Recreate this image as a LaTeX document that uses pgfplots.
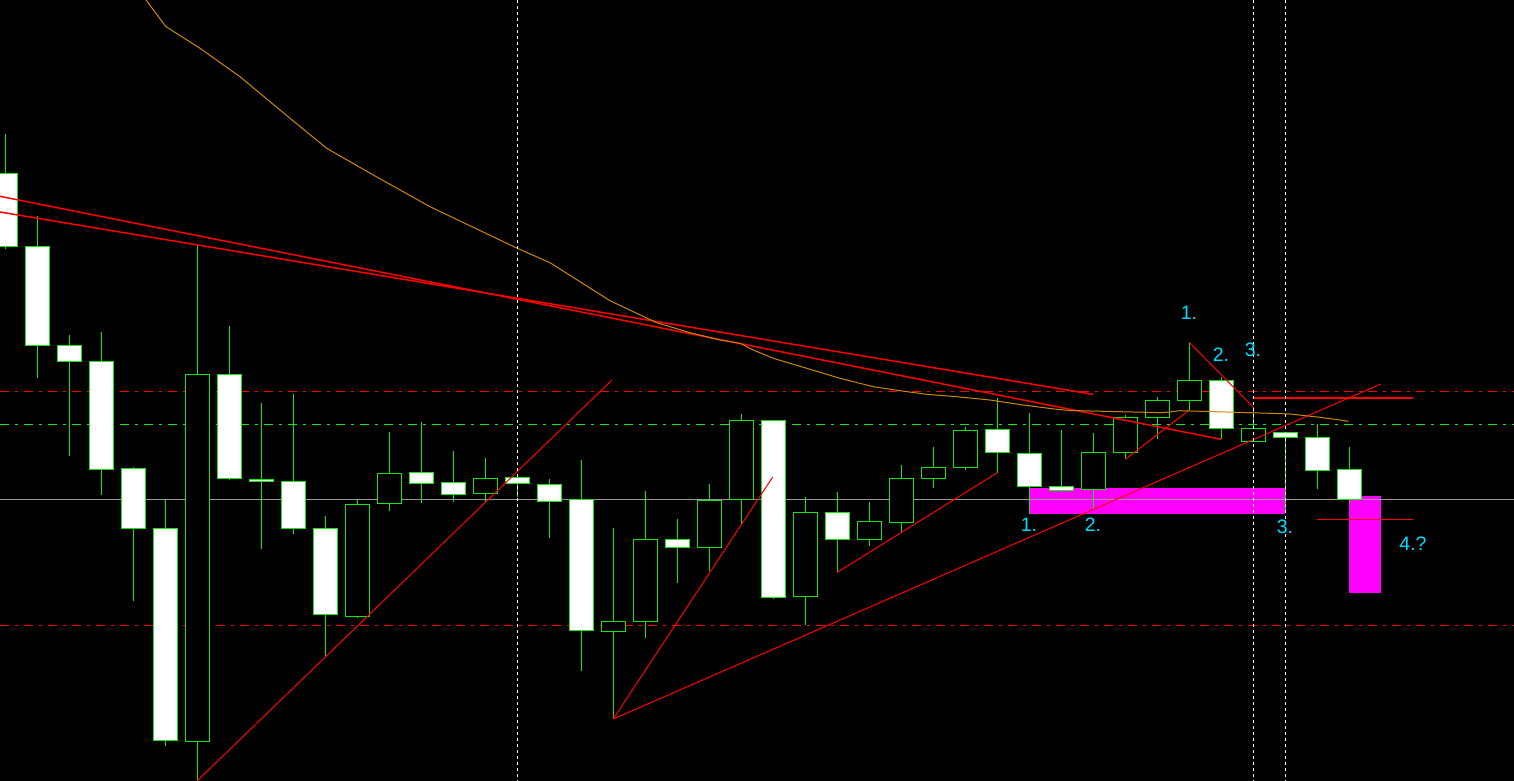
\documentclass[border=0pt]{standalone}
\usepackage{pgfplots}
\pgfplotsset{compat=1.18}
\usepackage{fontspec}
\setmainfont{Liberation Sans}
\definecolor{cgreen}{RGB}{20,230,20}
\definecolor{cgray}{RGB}{150,150,150}
\definecolor{maorange}{RGB}{205,135,10}
\definecolor{lblcyan}{RGB}{0,220,255}
\definecolor{mag}{RGB}{255,0,255}
\definecolor{tred}{RGB}{255,0,0}
\pgfplotsset{
  wick/.style={draw=cgreen, line width=1pt, mark=none},
  body/.style={draw=cgreen, line width=1pt, mark=none},
}
% \candle{x}{high}{top}{bottom}{low}{fill}
\newcommand{\candle}[6]{%
  \pgfmathsetmacro\xl{#1-12}\pgfmathsetmacro\xr{#1+12}%
  \edef\doplot{\noexpand\addplot[wick] coordinates {(#1,#2) (#1,#5)};%
    \noexpand\addplot[body,fill=#6] coordinates {(\xl,#3) (\xr,#3) (\xr,#4) (\xl,#4)} -- cycle;}%
  \doplot}
\begin{document}
\begin{tikzpicture}
\begin{axis}[
  scale only axis, width=1514pt, height=781pt,
  xmin=0, xmax=1514, ymin=0, ymax=781, y dir=reverse,
  hide axis, enlargelimits=false, clip=true,
  every axis plot/.append style={mark=none},
]
% background
\addplot[fill=black, draw=none] coordinates {(0,0) (1514,0) (1514,781) (0,781)} -- cycle;
% magenta zones
\addplot[fill=mag, draw=none] coordinates {(1029.3,488) (1285,488) (1285,513.7) (1029.3,513.7)} -- cycle;
\addplot[fill=mag, draw=none] coordinates {(1349,496) (1381,496) (1381,592.7) (1349,592.7)} -- cycle;
% horizontal levels
\addplot[cgray, line width=1pt] coordinates {(0,499) (1514,499)};
\addplot[tred, line width=1pt, dash pattern=on 9pt off 6pt on 3pt off 6pt] coordinates {(0,391.5) (1514,391.5)};
\addplot[tred, line width=1pt, dash pattern=on 9pt off 6pt on 3pt off 6pt] coordinates {(0,625.3) (1514,625.3)};
\addplot[cgreen, line width=1pt, dash pattern=on 9pt off 6pt on 3pt off 6pt] coordinates {(0,424.3) (1514,424.3)};
% candles
\candle{5.5}{134}{173.5}{246.5}{249}{white}
\candle{37.5}{216}{246.5}{345.5}{377.6}{white}
\candle{69.5}{335}{345.5}{361.5}{456.4}{white}
\candle{101.5}{332}{361.5}{469}{494.8}{white}
\candle{133.5}{467}{468.6}{528.5}{600.6}{white}
\candle{165.5}{499.4}{528.5}{740.5}{746}{white}
\candle{197.5}{244.8}{374.6}{741.4}{781}{black}
\candle{229.5}{326}{374.6}{478.3}{479.6}{white}
\candle{261.5}{403}{479}{481.7}{548.7}{white}
\candle{293.5}{394}{481.3}{528.7}{533.7}{white}
\candle{325.5}{516}{528.3}{614.3}{656.7}{white}
\candle{357.5}{500}{504.3}{616.3}{617.7}{black}
\candle{389.5}{432}{473.3}{503.3}{510.7}{black}
\candle{421.5}{422}{472.3}{483.3}{502.7}{white}
\candle{453.5}{451}{482.3}{494.3}{501.7}{white}
\candle{485.5}{458}{478.3}{493.3}{501.7}{black}
\candle{517.5}{474}{477.3}{483.3}{496.7}{white}
\candle{549.5}{479}{484.3}{501.7}{537.7}{white}
\candle{581.5}{460}{499.3}{630.3}{670.7}{white}
\candle{613.5}{528}{621.3}{631.3}{719}{black}
\candle{645.5}{491}{539.3}{621.3}{637.7}{black}
\candle{677.5}{519}{539.3}{547.3}{582.7}{white}
\candle{709.5}{484}{500.3}{547.3}{570.7}{black}
\candle{741.5}{414}{420.3}{499.3}{524}{black}
\candle{773.5}{420}{420.3}{597.3}{599.3}{white}
\candle{805.5}{497.3}{512.3}{596.7}{625.3}{black}
\candle{837.5}{492.3}{512.3}{539.3}{571.7}{white}
\candle{869.5}{502}{521.3}{539.3}{545.7}{black}
\candle{901.5}{465}{478.3}{522.3}{532.3}{black}
\candle{933.5}{447}{467.3}{478.3}{487.7}{black}
\candle{965.5}{427}{430.3}{467.7}{469.7}{black}
\candle{997.5}{398.3}{429.3}{452.3}{472.7}{white}
\candle{1029.5}{413.3}{453.3}{486.3}{514.3}{white}
\candle{1061.5}{430}{486.3}{490.3}{492.3}{white}
\candle{1093.5}{433.3}{452.3}{489.3}{509}{black}
\candle{1125.5}{415.3}{417.3}{452.3}{459}{black}
\candle{1157.5}{397}{400.3}{417.3}{438.7}{black}
\candle{1189.5}{342.3}{380.3}{400.3}{410}{black}
\candle{1221.5}{376.7}{380.3}{428}{439.3}{white}
\candle{1253.5}{407.3}{428.3}{441.7}{441.7}{black}
\candle{1285.5}{432.3}{432.3}{437.3}{513.3}{white}
\candle{1317.5}{424.3}{437.3}{470.3}{488.7}{white}
\candle{1349.5}{447}{469.3}{499.3}{503.3}{white}
% trend lines
\addplot[tred, line width=1.5pt] coordinates {(0,196.3) (1221,439.3)};
\addplot[tred, line width=1.5pt] coordinates {(0,212) (1093,394.3)};
\addplot[tred, line width=1pt] coordinates {(197,781) (612,380)};
\addplot[tred, line width=1pt] coordinates {(613.3,719) (772.7,477)};
\addplot[tred, line width=1pt] coordinates {(613.3,719) (1380.7,384)};
\addplot[tred, line width=1pt] coordinates {(837.3,572.3) (997.3,472.7)};
\addplot[tred, line width=1pt] coordinates {(1125.3,459.3) (1189.3,410)};
\addplot[tred, line width=1pt] coordinates {(1189.3,342.3) (1253.3,407.3)};
\addplot[tred, line width=2pt] coordinates {(1253.3,398.3) (1412.7,398.3)};
\addplot[tred, line width=1pt] coordinates {(1317,519.3) (1412.7,519.3)};
% moving average
\addplot[maorange, line width=1pt] coordinates {
 (146,0) (166,26.7) (200,48.3) (240,76.7) (290,118.3) (326.7,148.3) (373.3,175)
 (430,206.7) (517.3,248.3) (550,262.7) (610,300.7) (656.7,322.7) (690,332.7)
 (720,340) (740,343.3) (753.3,350) (773.3,358.3) (806.7,368.3) (840,378.3)
 (873.3,386.7) (900,390.7) (926.7,394.3) (956.7,396.7) (990,400) (1023,405)
 (1056.7,409.3) (1070,410.5) (1163,412.7) (1180,410.7) (1250,412.7) (1270,413.3)
 (1290,414) (1301.7,415.3) (1320,417.3) (1340,420) (1348.3,421.3)};
% vertical separators
\addplot[white, line width=1pt, dash pattern=on 3pt off 3pt] coordinates {(517.3,0) (517.3,781)};
\addplot[white, line width=1pt, dash pattern=on 3pt off 3pt] coordinates {(1253.3,0) (1253.3,781)};
\addplot[white, line width=1pt, dash pattern=on 3pt off 3pt] coordinates {(1285.3,0) (1285.3,781)};
% labels
\begin{scope}[every node/.style={text=lblcyan, inner sep=0pt, anchor=center, font=\fontsize{19.5}{20}\selectfont}]
\node at (axis cs:1189,313) {1.};
\node at (axis cs:1221,354.5) {2.};
\node at (axis cs:1253,350) {3.};
\node at (axis cs:1029,525) {1.};
\node at (axis cs:1093,525) {2.};
\node at (axis cs:1285,527) {3.};
\node at (axis cs:1413,544) {4.?};
\end{scope}
\end{axis}
\pgfresetboundingbox
\path[use as bounding box] (current axis.south west) rectangle (current axis.north east);
\end{tikzpicture}
\end{document}
